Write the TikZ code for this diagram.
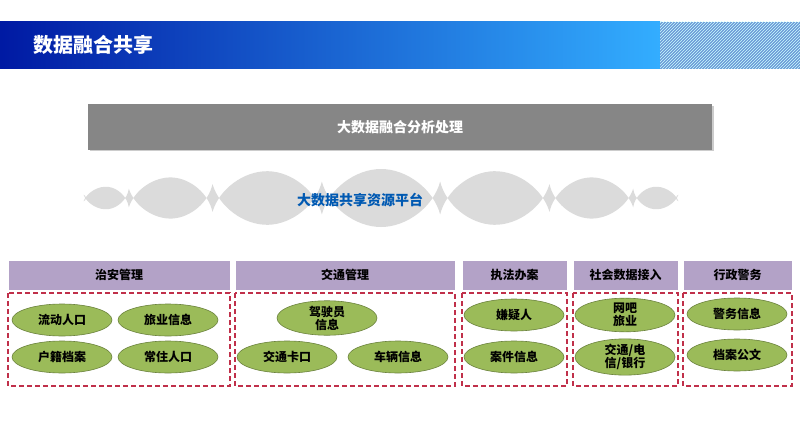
\documentclass[tikz,border=0pt]{standalone}
\usepackage{fontspec}
\setmainfont{Noto Sans CJK SC}
\usetikzlibrary{shapes.symbols,shapes.geometric,shadows,patterns}
\definecolor{hdr}{HTML}{B3A2C7}
\definecolor{grn}{HTML}{9BBB59}
\definecolor{red1}{HTML}{C0304A}
\begin{document}
\begin{tikzpicture}[x=1pt,y=-1pt,
 head/.style={draw=white,fill=hdr,minimum height=30pt,font=\bfseries\fontsize{12}{14}\selectfont,text=black,inner sep=0pt,drop shadow={shadow xshift=1pt,shadow yshift=-1pt,opacity=.3}},
 grp/.style={draw=red1,dashed,line width=1.3pt,dash pattern=on 5pt off 3pt},
 el/.style={ellipse,fill=grn,draw=grn!70!black,line width=.6pt,minimum width=100pt,minimum height=32pt,inner sep=0pt,align=center,font=\bfseries\fontsize{12}{13}\selectfont}]
\useasboundingbox (0,0) rectangle (800,425);
\fill[white] (0,0) rectangle (800,425);
% title band
\shade[left color=blue!60!black!90!cyan, right color=cyan!60!blue!80] (0,22) rectangle (660,69);
\fill[cyan!50!blue!60] (660,22) rectangle (800,69);
\fill[pattern=north east lines,pattern color=white!80!cyan] (660,22) rectangle (800,69);
\node[text=white,font=\bfseries\fontsize{20}{22}\selectfont,anchor=west] (title) at (30,45) {数据融合共享};
% gray box
\node[fill=gray!95,minimum width=624pt,minimum height=45pt,text=white,font=\bfseries\fontsize{14}{16}\selectfont,drop shadow={shadow xshift=1.5pt,shadow yshift=-1.5pt,opacity=.4}] (proc) at (400,127) {大数据融合分析处理};
% cloud
\node[cloud,cloud puffs=16,aspect=10,fill=gray!28,draw=none,minimum width=590pt,minimum height=58pt] (cloud) at (381,198) {};
\node[text=blue!50!cyan!70!black,font=\bfseries\fontsize{14}{16}\selectfont] (cloudt) at (360,200) {大数据共享资源平台};
% headers
\node[head,minimum width=222pt] (h1) at (119,275) {治安管理};
\node[head,minimum width=220pt] (h2) at (345,275) {交通管理};
\node[head,minimum width=105pt] (h3) at (514.5,275) {执法办案};
\node[head,minimum width=105pt] (h4) at (625.5,275) {社会数据接入};
\node[head,minimum width=109pt] (h5) at (737.5,275) {行政警务};
% groups
\draw[grp] (8,293) rectangle (230,386);
\draw[grp] (235,293) rectangle (455,386);
\draw[grp] (462,293) rectangle (567,386);
\draw[grp] (573,293) rectangle (678,386);
\draw[grp] (683,293) rectangle (792,386);
% ellipses
\node[el] (e1) at (62,320) {流动人口};
\node[el] (e2) at (168,320) {旅业信息};
\node[el] (e3) at (62,357) {户籍档案};
\node[el] (e4) at (168,357) {常住人口};
\node[el] (e5) at (327,318) {驾驶员\\信息};
\node[el] (e6) at (287,357) {交通卡口};
\node[el] (e7) at (398,357) {车辆信息};
\node[el] (e8) at (514,315) {嫌疑人};
\node[el] (e9) at (514,357) {案件信息};
\node[el] (e10) at (625,315) {网吧\\旅业};
\node[el] (e11) at (625,357) {交通/电\\信/银行};
\node[el] (e12) at (737,314) {警务信息};
\node[el] (e13) at (737,355) {档案公文};
\end{tikzpicture}
\end{document}
